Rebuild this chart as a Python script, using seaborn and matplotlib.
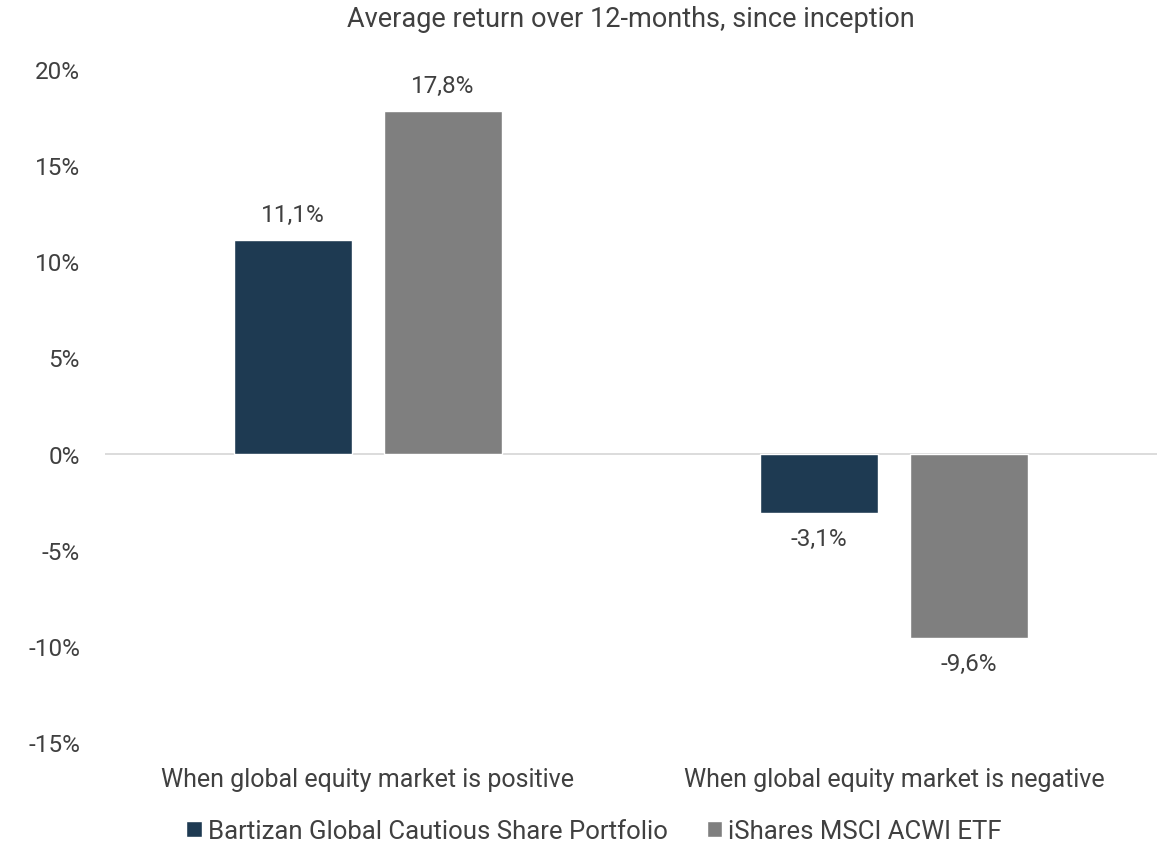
import pandas as pd
import matplotlib
matplotlib.use("Agg")
import matplotlib.pyplot as plt
import seaborn as sns

# data
categories = ["When global equity market is positive", "When global equity market is negative"]
series = ["Bartizan Global Cautious Share Portfolio", "iShares MSCI ACWI ETF"]
bartizan = [11.1, -3.1]
ishares = [17.8, -9.6]
yticks = [-15, -10, -5, 0, 5, 10, 15, 20]

df = pd.DataFrame({
    "category": categories * 2,
    "series": [series[0]] * 2 + [series[1]] * 2,
    "value": bartizan + ishares,
})

sns.set_style("white")
plt.rcParams["font.family"] = ["Roboto", "DejaVu Sans"]
text_col = "#404040"

fig = plt.figure(figsize=(11.64, 8.45), dpi=100)
ax = fig.add_axes([0.0902, 0.1207, 0.9038, 0.7965])

sns.barplot(data=df, x="category", y="value", hue="series", order=categories,
            hue_order=series, palette=["#1e3a52", "#7f7f7f"],
            width=0.57, gap=0.214, saturation=1, ax=ax, legend=True)

for cont in ax.containers:
    labels = [f"{v:.1f}%".replace(".", ",") for v in cont.datavalues]
    ax.bar_label(cont, labels=labels, padding=10, fontsize=17.5, color=text_col)

ax.set_xlim(-0.5, 1.5)
ax.set_ylim(-15, 20)
ax.set_yticks(yticks)
ax.set_yticklabels([f"{t}%" for t in yticks], fontsize=17.5, color=text_col)
ax.tick_params(axis="y", length=0, pad=18)
ax.tick_params(axis="x", length=0, pad=18, labelsize=18, labelcolor=text_col)
ax.set_xlabel("")
ax.set_ylabel("")
for s in ax.spines.values():
    s.set_visible(False)
ax.axhline(0, color="#d9d9d9", linewidth=1.3, zorder=0)

ax.set_title("Average return over 12-months, since inception", fontsize=19.5,
             color=text_col, pad=31)

# legend centred on the figure, not on the plot area
leg = ax.legend(loc="upper center", bbox_to_anchor=(0.465, -0.092), ncol=2,
                frameon=False, fontsize=18.5, handlelength=0.6, handleheight=0.6,
                handletextpad=0.25, columnspacing=1.5, borderpad=0.1)
for t in leg.get_texts():
    t.set_color(text_col)

fig.savefig("out.png", dpi=100)
